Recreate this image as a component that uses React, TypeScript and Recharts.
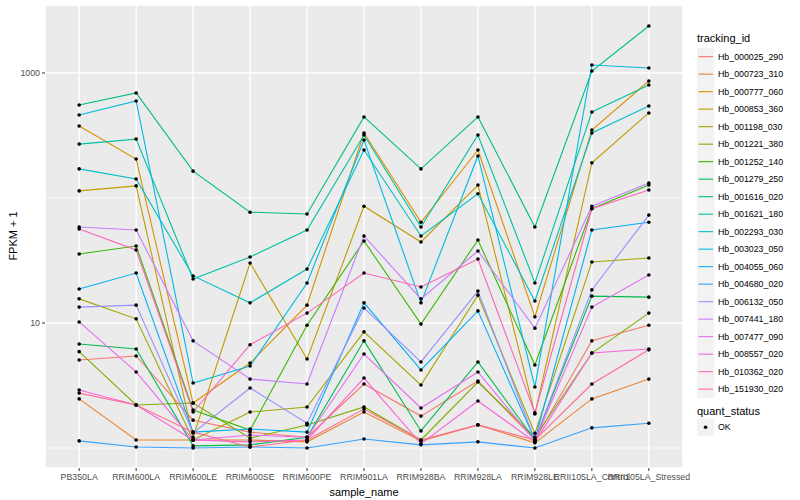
import React from 'react';
import { LineChart, Line, XAxis, YAxis, CartesianGrid, ReferenceLine } from 'recharts';

const FONT = "'Liberation Sans', Arial, sans-serif";

const sampleNames = [
  'PB350LA',
  'RRIM600LA',
  'RRIM600LE',
  'RRIM600SE',
  'RRIM600PE',
  'RRIM901LA',
  'RRIM928BA',
  'RRIM928LA',
  'RRIM928LE',
  'RRII105LA_Control',
  'RRII105LA_Stressed',
];

const trackingIds = [
  'Hb_000025_290',
  'Hb_000723_310',
  'Hb_000777_060',
  'Hb_000853_360',
  'Hb_001198_030',
  'Hb_001221_380',
  'Hb_001252_140',
  'Hb_001279_250',
  'Hb_001616_020',
  'Hb_001621_180',
  'Hb_002293_030',
  'Hb_003023_050',
  'Hb_004055_060',
  'Hb_004680_020',
  'Hb_006132_050',
  'Hb_007441_180',
  'Hb_007477_090',
  'Hb_008557_020',
  'Hb_010362_020',
  'Hb_151930_020',
];

// FPKM + 1 per sample
const hb000025 = [5.06, 5.45, 1.67, 1.34, 1.22, 3.25, 1.8, 3.44, 1.16, 7.2, 9.6];
const hb000723 = [2.47, 1.16, 1.16, 1.16, 1.12, 1.94, 1.14, 1.53, 1.1, 2.47, 3.56];
const hb000777 = [377, 205, 2.29, 4.79, 13.9, 331, 64, 242, 11.2, 350, 863];
const hb000853 = [114, 125, 1.22, 30.2, 5.15, 86, 44.5, 127, 1.87, 191, 479];
const hb001198 = [15.6, 10.8, 1.16, 1.94, 2.13, 8.5, 3.19, 16.7, 1.31, 30.8, 33.1];
const hb001221 = [5.9, 2.21, 2.29, 1.2, 1.53, 2.13, 1.16, 3.37, 1.22, 5.75, 12.0];
const hb001252 = [35.6, 41.3, 2.01, 1.39, 9.6, 45.3, 9.8, 46.1, 4.61, 82, 127];
const hb001279 = [6.8, 6.2, 1.04, 1.06, 1.22, 7.2, 1.37, 4.88, 1.16, 16.4, 16.1];
const hb001616 = [555, 692, 164, 77, 74.5, 445, 171, 445, 58.6, 1038, 2377];
const hb001621 = [270, 296, 22.5, 33.7, 55.5, 319, 58.6, 319, 20.9, 488, 802];
const hb002293 = [171, 142, 23.8, 14.5, 27.0, 242, 49.7, 108, 15.0, 331, 545];
const hb003023 = [461, 597, 3.31, 4.53, 20.9, 291, 14.5, 217, 3.08, 1159, 1096];
const hb004055 = [18.7, 25.1, 1.34, 1.42, 1.34, 14.5, 4.21, 12.5, 1.16, 55.5, 64];
const hb004680 = [1.14, 1.02, 1.0, 1.02, 1.0, 1.18, 1.06, 1.12, 1.0, 1.45, 1.58];
const hb006132 = [13.4, 13.9, 1.32, 3.02, 1.58, 13.2, 4.88, 18.0, 1.16, 18.4, 73];
const hb007441 = [58.6, 55.5, 7.2, 3.56, 3.25, 49.7, 15.6, 37.7, 9.1, 86, 132];
const hb007477 = [10.2, 4.06, 1.16, 1.27, 1.22, 5.65, 2.09, 4.06, 1.14, 13.4, 24.2];
const hb008557 = [2.91, 2.21, 1.16, 1.12, 1.16, 3.63, 1.08, 2.38, 1.12, 5.75, 6.2];
const hb010362 = [56.5, 38.4, 1.94, 6.7, 12.0, 25.1, 19.4, 32.5, 1.91, 82, 116];
const hb151930 = [2.75, 2.21, 1.34, 1.02, 1.16, 2.05, 1.16, 1.53, 1.16, 3.25, 6.1];

const seriesValues = [
  hb000025, hb000723, hb000777, hb000853, hb001198,
  hb001221, hb001252, hb001279, hb001616, hb001621,
  hb002293, hb003023, hb004055, hb004680, hb006132,
  hb007441, hb007477, hb008557, hb010362, hb151930,
];

const yTicks = [10, 1000];

// ggplot hue palette, 20 levels
const COLORS = [
  '#F8766D', '#EA8331', '#D89000', '#C09B00', '#A3A500',
  '#7CAE00', '#39B600', '#00BB4E', '#00BF7D', '#00C1A3',
  '#00BFC4', '#00BAE0', '#00B0F6', '#35A2FF', '#9590FF',
  '#C77CFF', '#E76BF3', '#FA62DB', '#FF62BC', '#FF6C91',
];

const data = sampleNames.map((name, i) => {
  const row: Record<string, number | string> = { x: i, sample: name };
  trackingIds.forEach((id, k) => {
    row[id] = seriesValues[k][i];
  });
  return row;
});

const Legends = () => {
  const top = 48;
  const step = 17.5;
  return (
    <svg
      width={800}
      height={500}
      style={{ position: 'absolute', left: 0, top: 0, pointerEvents: 'none' }}
      fontFamily={FONT}
    >
      {/* axis titles */}
      <text x={13} y={236} fontSize={11} textAnchor="middle" dominantBaseline="central" transform="rotate(-90 13 236)">
        FPKM + 1
      </text>
      <text x={364} y={492} fontSize={11} textAnchor="middle" dominantBaseline="central">
        sample_name
      </text>

      {/* tracking_id legend */}
      <text x={697} y={38} fontSize={11} dominantBaseline="central">
        tracking_id
      </text>
      {trackingIds.map((id, k) => {
        const y = top + k * step;
        return (
          <g key={id}>
            <rect x={697} y={y} width={17.3} height={17.3} fill="#F2F2F2" />
            <line x1={698.5} x2={713} y1={y + 8.65} y2={y + 8.65} stroke={COLORS[k]} strokeWidth={1.1} />
            <text x={718} y={y + 8.65} fontSize={8.8} dominantBaseline="central" fill="#000">
              {id}
            </text>
          </g>
        );
      })}

      {/* quant_status legend */}
      <text x={697} y={411} fontSize={11} dominantBaseline="central">
        quant_status
      </text>
      <rect x={697} y={418.5} width={17.3} height={17.3} fill="#F2F2F2" />
      <circle cx={705.6} cy={427.2} r={1.8} fill="#000" />
      <text x={718} y={427.2} fontSize={8.8} dominantBaseline="central">
        OK
      </text>
    </svg>
  );
};

const App: React.FC = () => {
  return (
    <div style={{ position: 'relative', width: 800, height: 500, fontFamily: FONT }}>
      <style>{'body { margin: 0; }'}</style>
      <LineChart width={800} height={500} data={data} margin={{ top: 5, right: 117, bottom: 0, left: 0 }}>
        <CartesianGrid fill="#EBEBEB" stroke="#FFFFFF" strokeWidth={1.4} />
        <ReferenceLine y={1} stroke="#FFFFFF" strokeWidth={0.7} ifOverflow="hidden" />
        <ReferenceLine y={100} stroke="#FFFFFF" strokeWidth={0.7} ifOverflow="hidden" />
        <XAxis
          type="number"
          dataKey="x"
          domain={[-0.6, 10.6]}
          ticks={sampleNames.map((_, i) => i)}
          tickFormatter={(i: number) => sampleNames[i]}
          interval={0}
          height={32}
          axisLine={false}
          tickLine={{ stroke: '#333333' }}
          tickSize={3}
          tickMargin={3}
          tick={{ fill: '#4D4D4D', fontSize: 8.8, fontFamily: FONT }}
          allowDataOverflow
        />
        <YAxis
          scale="log"
          domain={[0.692, 3499]}
          ticks={yTicks}
          allowDataOverflow
          width={45}
          axisLine={false}
          tickLine={{ stroke: '#333333' }}
          tickSize={3}
          tickMargin={2}
          tick={{ fill: '#4D4D4D', fontSize: 8.8, fontFamily: FONT }}
        />
        {trackingIds.map((id, k) => (
          <Line
            key={id}
            type="linear"
            dataKey={id}
            stroke={COLORS[k]}
            strokeWidth={1.1}
            dot={false}
            activeDot={false}
            isAnimationActive={false}
          />
        ))}
        {trackingIds.map((id) => (
          <Line
            key={`${id}-pts`}
            type="linear"
            dataKey={id}
            stroke="none"
            dot={{ r: 1.8, fill: '#000000', stroke: 'none' }}
            activeDot={false}
            isAnimationActive={false}
          />
        ))}
      </LineChart>
      <Legends />
    </div>
  );
};

export default App;
